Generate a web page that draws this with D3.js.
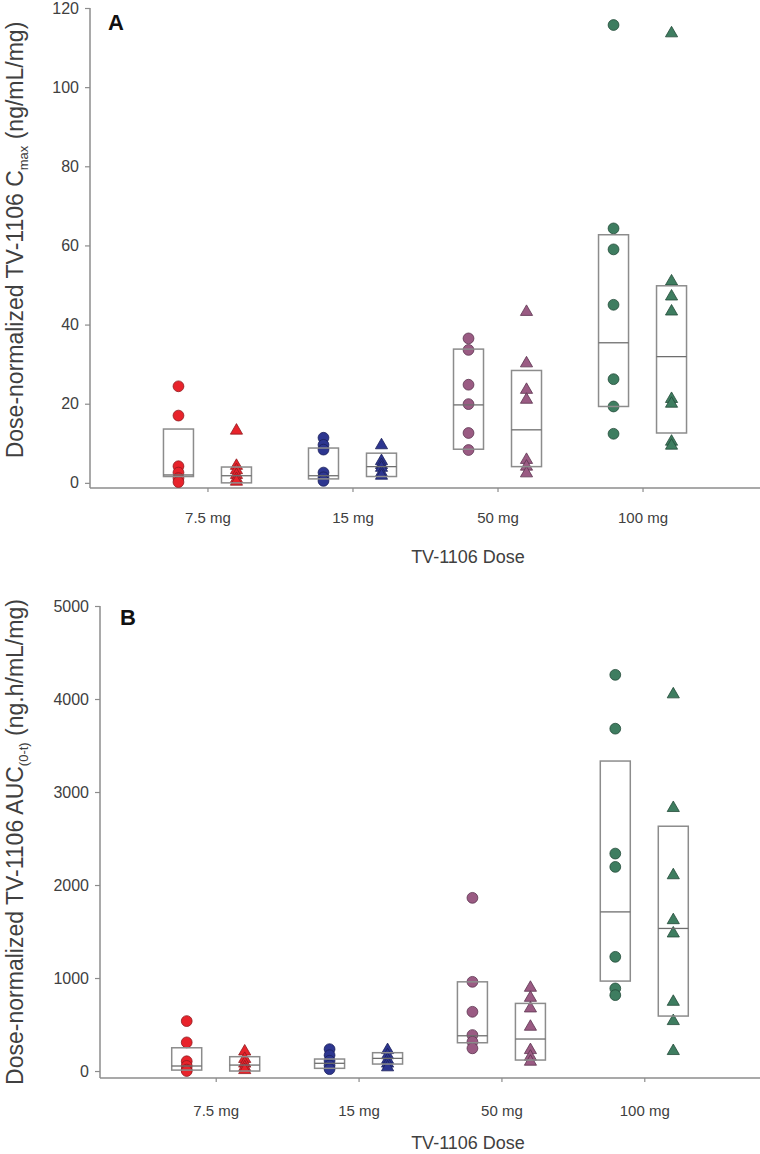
<!DOCTYPE html>
<html>
<head>
<meta charset="utf-8">
<script src="https://cdn.jsdelivr.net/npm/d3@7/dist/d3.min.js"></script>
<style>
  html, body { margin: 0; padding: 0; background: #fff; }
  svg { display: block; font-family: "Liberation Sans", Arial, sans-serif; }
</style>
</head>
<body>
<svg id="chart" width="760" height="1154"></svg>
<script>
// ---------- data ----------
const doses = ["7.5 mg", "15 mg", "50 mg", "100 mg"];
const doseColors = ["#e8232b", "#2d3690", "#9a5b83", "#3e7d60"];
const doseStrokes = ["#8e1b1f", "#1b2059", "#5c344f", "#234a38"];

// Panel A: Cmax (ng/mL/mg)
const cmaxCircle = [
  [24.4, 17.0, 4.2, 2.6, 1.2, 0.2],
  [11.4, 9.6, 8.4, 2.6, 1.4, 0.5],
  [36.5, 33.6, 24.8, 19.9, 12.6, 8.3],
  [115.7, 64.3, 59.0, 45.0, 26.2, 19.3, 12.4]
];
const cmaxTriangle = [
  [13.2, 4.3, 3.2, 2.0, 1.0, 0.3],
  [9.5, 5.5, 4.5, 3.8, 2.5, 1.8],
  [43.2, 30.2, 23.5, 21.0, 5.8, 4.1, 2.4],
  [113.6, 50.9, 47.1, 43.3, 21.2, 20.0, 10.4, 9.4]
];
const cmaxCircleQ1 = [1.6, 1.0, 8.5, 19.3];
const cmaxCircleMed = [2.0, 1.8, 19.7, 35.4];
const cmaxCircleQ3 = [13.6, 8.8, 33.8, 62.7];
const cmaxTriangleQ1 = [0.0, 1.6, 4.1, 12.6];
const cmaxTriangleMed = [1.8, 4.1, 13.4, 31.9];
const cmaxTriangleQ3 = [4.0, 7.5, 28.4, 49.8];
const cmaxTicks = [0, 20, 40, 60, 80, 100, 120];

// Panel B: AUC(0-t) (ng.h/mL/mg)
const aucCircle = [
  [537, 308, 105, 55, 15, 0],
  [235, 170, 110, 60, 20],
  [1862, 959, 637, 387, 315, 244],
  [4260, 3681, 2338, 2195, 1228, 888, 816]
];
const aucTriangle = [
  [210, 130, 80, 40, 10],
  [225, 170, 120, 80, 40],
  [895, 787, 673, 476, 225, 154, 100],
  [4050, 2828, 2105, 1622, 1479, 744, 537, 215]
];
const aucCircleQ1 = [10, 29, 304, 967];
const aucCircleMed = [54, 83, 379, 1711];
const aucCircleQ3 = [250, 129, 959, 3333];
const aucTriangleQ1 = [0, 75, 118, 591];
const aucTriangleMed = [64, 136, 344, 1533];
const aucTriangleQ3 = [154, 197, 727, 2632];
const aucTicks = [0, 1000, 2000, 3000, 4000, 5000];

// ---------- drawing ----------
const svg = d3.select("#chart");
const axisColor = "#8c8c8c";
const textColor = "#404040";

function drawPanel(cfg) {
  const g = svg.append("g");
  const x = d3.scalePoint().domain(doses).range([cfg.left, 760]).padding(0.81);
  const y = d3.scaleLinear().domain(cfg.yDomain).range([cfg.bottom, cfg.top]);
  const off = 29, bw = 30;

  // y axis
  const yAxis = g.append("g").attr("transform", `translate(${cfg.left},0)`)
    .call(d3.axisLeft(y).tickValues(cfg.ticks).tickSize(5).tickPadding(6).tickFormat(d3.format("d")));
  yAxis.select(".domain").attr("stroke", axisColor).attr("stroke-width", 1.5)
    .attr("d", `M0,${y(cfg.ticks[cfg.ticks.length - 1])}V${cfg.bottom}`);
  yAxis.selectAll(".tick line").attr("stroke", axisColor).attr("stroke-width", 1.2);
  yAxis.selectAll(".tick text").attr("fill", textColor).style("font-size", "16px");

  // x axis
  const xAxis = g.append("g").attr("transform", `translate(0,${cfg.bottom})`)
    .call(d3.axisBottom(x).tickSize(4).tickPadding(cfg.xLabelPad));
  xAxis.select(".domain").attr("stroke", axisColor).attr("stroke-width", 1.5)
    .attr("d", `M${cfg.left},0H760`);
  xAxis.selectAll(".tick line").attr("stroke", axisColor).attr("stroke-width", 1.2);
  xAxis.selectAll(".tick text").attr("fill", textColor).style("font-size", "15px");

  // x title
  g.append("text").attr("x", 468).attr("y", cfg.bottom + cfg.xTitleDy)
    .attr("text-anchor", "middle").attr("fill", textColor).style("font-size", "18px")
    .text("TV-1106 Dose");

  // y title
  const yt = g.append("text")
    .attr("transform", `translate(23,${cfg.titleY}) rotate(-90)`)
    .attr("text-anchor", "middle").attr("fill", textColor).style("font-size", "23px");
  yt.append("tspan").text(cfg.yTitle[0]);
  yt.append("tspan").attr("dy", 5).style("font-size", "13px").text(cfg.yTitle[1]);
  yt.append("tspan").attr("dy", -5).text(cfg.yTitle[2]);

  // panel letter
  g.append("text").attr("x", cfg.letterX).attr("y", cfg.letterY)
    .attr("font-weight", "bold").style("font-size", "22px").attr("fill", "#111")
    .text(cfg.letter);

  // points
  const circlePts = [], triPts = [];
  doses.forEach((d, i) => {
    cfg.circle[i].forEach(v => circlePts.push({ d, i, v }));
    cfg.tri[i].forEach(v => triPts.push({ d, i, v }));
  });
  g.append("g").selectAll("circle").data(circlePts).join("circle")
    .attr("cx", p => x(p.d) - off).attr("cy", p => y(p.v)).attr("r", 5.4)
    .attr("fill", p => doseColors[p.i]).attr("stroke", p => doseStrokes[p.i]).attr("stroke-width", 0.8);
  const tri = d3.symbol().type(d3.symbolTriangle).size(64);
  g.append("g").selectAll("path").data(triPts).join("path")
    .attr("d", tri)
    .attr("transform", p => `translate(${x(p.d) + off},${y(p.v)})`)
    .attr("fill", p => doseColors[p.i]).attr("stroke", p => doseStrokes[p.i]).attr("stroke-width", 0.8);

  // boxes (drawn on top, no fill)
  const boxes = [];
  doses.forEach((d, i) => {
    boxes.push({ cx: x(d) - off, q1: cfg.cQ1[i], med: cfg.cMed[i], q3: cfg.cQ3[i] });
    boxes.push({ cx: x(d) + off, q1: cfg.tQ1[i], med: cfg.tMed[i], q3: cfg.tQ3[i] });
  });
  const bg = g.append("g");
  bg.selectAll("rect").data(boxes).join("rect")
    .attr("x", b => b.cx - bw / 2).attr("width", bw)
    .attr("y", b => y(b.q3)).attr("height", b => y(b.q1) - y(b.q3))
    .attr("fill", "none").attr("stroke", axisColor).attr("stroke-width", 1.5);
  bg.selectAll("line").data(boxes).join("line")
    .attr("x1", b => b.cx - bw / 2).attr("x2", b => b.cx + bw / 2)
    .attr("y1", b => y(b.med)).attr("y2", b => y(b.med))
    .attr("stroke", "#6e6e6e").attr("stroke-width", 1.3);
}

drawPanel({
  left: 90, top: 8, bottom: 488, yDomain: [-1.3, 120], ticks: cmaxTicks,
  circle: cmaxCircle, tri: cmaxTriangle,
  cQ1: cmaxCircleQ1, cMed: cmaxCircleMed, cQ3: cmaxCircleQ3,
  tQ1: cmaxTriangleQ1, tMed: cmaxTriangleMed, tQ3: cmaxTriangleQ3,
  yTitle: ["Dose-normalized TV-1106 C", "max", " (ng/mL/mg)"], titleY: 240,
  letter: "A", letterX: 108, letterY: 30, xLabelPad: 20, xTitleDy: 75
});
drawPanel({
  left: 100, top: 606, bottom: 1078, yDomain: [-75, 5000], ticks: aucTicks,
  circle: aucCircle, tri: aucTriangle,
  cQ1: aucCircleQ1, cMed: aucCircleMed, cQ3: aucCircleQ3,
  tQ1: aucTriangleQ1, tMed: aucTriangleMed, tQ3: aucTriangleQ3,
  yTitle: ["Dose-normalized TV-1106 AUC", "(0-t)", " (ng.h/mL/mg)"], titleY: 842,
  letter: "B", letterX: 120, letterY: 625, xLabelPad: 23, xTitleDy: 71
});
</script>
</body>
</html>
